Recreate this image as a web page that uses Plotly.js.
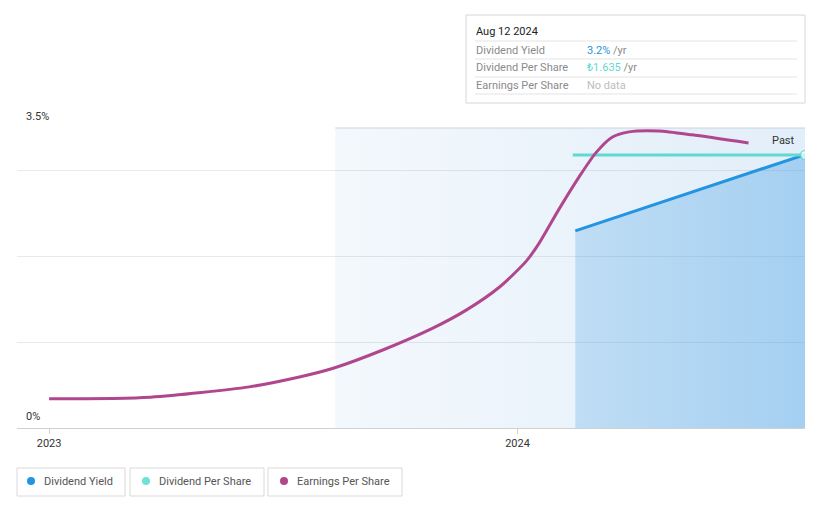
<!DOCTYPE html>
<html>
<head>
<meta charset="utf-8">
<script src="https://cdn.plot.ly/plotly-3.0.1.min.js"></script>
<style>html,body{margin:0;padding:0;background:#fff;}#chart{width:821px;height:508px;}</style>
</head>
<body>
<div id="chart"></div>
<script>
// Dividend Yield (%)
const yieldDates = ['2024-02-15', '2024-08-12'];
const yieldValues = [2.30, 3.19];
// Dividend Per Share (TRY)
const dpsDates = ['2024-02-13', '2024-08-12'];
const dpsValues = [1.635, 1.635];
// Earnings Per Share (TRY, estimated)
const epsDates = ['2023-01-01','2023-03-21','2023-06-06','2023-07-15','2023-08-11','2023-09-18','2023-10-27','2023-11-22','2023-12-18','2024-01-08','2024-01-18','2024-02-02','2024-02-18','2024-03-02','2024-03-15','2024-03-28','2024-04-20','2024-05-16','2024-06-29'];
const epsValues = [0.68,0.72,0.96,1.19,1.40,1.82,2.33,2.75,3.29,3.90,4.32,5.09,5.86,6.42,6.79,6.91,6.93,6.84,6.65];
// Past region
const pastDates = ['2023-08-12', '2024-08-12'];
const pastTop = [3.5, 3.5];
// Axis ticks
const yTickVals = [0, 1, 2, 3, 3.5];
const yTickText = ['0%', '', '', '', '3.5%'];
const xTickVals = ['2023-01-01', '2024-01-01'];
const xTickText = ['2023', '2024'];
// Legend
const legendNames = ['Dividend Yield', 'Dividend Per Share', 'Earnings Per Share'];

const FONT = 'Roboto, "Open Sans", sans-serif';
const BLUE = '#2394df', TEAL = '#5fd9d1', MAG = '#b0478e';
const legendColors = [BLUE, '#6ee2d6', MAG];

const traces = [
  {x: pastDates, y: pastTop, type: 'scatter', mode: 'lines', line: {width: 0}, fill: 'tozeroy',
   fillgradient: {type: 'horizontal', colorscale: [[0, 'rgba(60,140,215,0.06)'], [1, 'rgba(60,140,215,0.15)']]},
   hoverinfo: 'skip', showlegend: false},
  {x: yieldDates, y: yieldValues, type: 'scatter', mode: 'lines', line: {color: BLUE, width: 3}, fill: 'tozeroy',
   fillgradient: {type: 'horizontal', colorscale: [[0, 'rgba(90,170,230,0.30)'], [1, 'rgba(80,165,230,0.42)']]},
   name: legendNames[0], showlegend: false},
  {x: dpsDates, y: dpsValues, yaxis: 'y2', type: 'scatter', mode: 'lines+markers', line: {color: TEAL, width: 3},
   marker: {size: [0, 9], color: '#ffffff', line: {color: TEAL, width: 1.5}}, name: legendNames[1], showlegend: false},
  {x: epsDates, y: epsValues, yaxis: 'y3', type: 'scatter', mode: 'lines', line: {color: MAG, width: 3, shape: 'spline', smoothing: 0.7},
   name: legendNames[2], showlegend: false}
];

function px(x){return (x-17)/788;}
function py(y){return (428-y)/300;}

const shapes = [
  {type: 'line', xref: 'x', yref: 'paper', x0: '2023-08-12', x1: '2024-08-12', y0: 1, y1: 1, line: {color: '#c9d4de', width: 1}},
  // tooltip box
  {type: 'rect', xref: 'paper', yref: 'paper', x0: px(466), x1: px(805), y0: py(103), y1: py(15), line: {color: '#d6d6d6', width: 1}, fillcolor: '#ffffff'},
  {type: 'line', xref: 'paper', yref: 'paper', x0: px(475), x1: px(797), y0: py(41), y1: py(41), line: {color: '#e3e3e3', width: 1}},
  {type: 'line', xref: 'paper', yref: 'paper', x0: px(475), x1: px(797), y0: py(59), y1: py(59), line: {color: '#e3e3e3', width: 1}},
  {type: 'line', xref: 'paper', yref: 'paper', x0: px(475), x1: px(797), y0: py(77), y1: py(77), line: {color: '#e3e3e3', width: 1}},
  {type: 'line', xref: 'paper', yref: 'paper', x0: px(475), x1: px(797), y0: py(94), y1: py(94), line: {color: '#e3e3e3', width: 1}}
];
const boxes = [[17, 125], [130, 264], [268, 402]];
const dotX = [31, 146, 284];
const annotations = [];

function ann(x, y, text, color, size, anchor){
  return {xref: 'paper', yref: 'paper', x: px(x), y: py(y), text: text, showarrow: false,
          xanchor: anchor || 'left', yanchor: 'middle', font: {family: FONT, size: size || 11, color: color || '#333'}};
}

for (let i = 0; i < 3; i++) {
  shapes.push({type: 'rect', xref: 'paper', yref: 'paper', x0: px(boxes[i][0]), x1: px(boxes[i][1]), y0: py(496), y1: py(468), line: {color: '#d9d9d9', width: 1}});
  shapes.push({type: 'circle', xref: 'paper', yref: 'paper', xsizemode: 'pixel', ysizemode: 'pixel', xanchor: px(dotX[i]), yanchor: py(481),
               x0: -4, x1: 4, y0: -4, y1: 4, fillcolor: legendColors[i], line: {width: 0}});
  annotations.push(ann(dotX[i] + 11, 481, legendNames[i], '#555', 11));
}

annotations.push(
  ann(474, 32, 'Aug 12 2024', '#222', 11),
  ann(474, 50, 'Dividend Yield', '#8a8a8a', 11),
  ann(474, 67, 'Dividend Per Share', '#8a8a8a', 11),
  ann(474, 85, 'Earnings Per Share', '#8a8a8a', 11),
  ann(585, 50, '<span style="color:' + BLUE + '">3.2%</span> /yr', '#8a8a8a', 11),
  ann(585, 67, '<span style="color:' + TEAL + '">₺1.635</span> /yr', '#8a8a8a', 11),
  ann(585, 85, 'No data', '#bdbdbd', 11),
  ann(797, 140, 'Past', '#333', 11, 'right')
);

const layout = {
  width: 821, height: 508,
  margin: {l: 17, r: 16, t: 128, b: 80},
  paper_bgcolor: '#ffffff', plot_bgcolor: '#ffffff',
  font: {family: FONT, size: 11, color: '#333'},
  showlegend: false,
  hovermode: false,
  xaxis: {type: 'date', range: ['2022-12-07', '2024-08-12'], tickvals: xTickVals, ticktext: xTickText,
          showgrid: false, zeroline: false, showline: true, linecolor: '#d0d0d0', linewidth: 1,
          ticks: 'outside', ticklen: 5, tickcolor: '#d0d0d0', tickfont: {family: FONT, size: 11, color: '#333'}},
  yaxis: {range: [0, 3.5], tickvals: yTickVals, ticktext: yTickText, showgrid: true, gridcolor: '#e9e9e9',
          zeroline: false, showline: false, ticks: '', ticklabelposition: 'inside', ticklabeloverflow: 'allow',
          ticklabelshift: -12, ticklabelstandoff: 6,
          tickfont: {family: FONT, size: 11, color: '#333'}},
  yaxis2: {range: [0, 1.7967], overlaying: 'y', visible: false},
  yaxis3: {range: [0, 7], overlaying: 'y', visible: false},
  shapes: shapes,
  annotations: annotations
};

Plotly.newPlot('chart', traces, layout, {displayModeBar: false, staticPlot: true});
</script>
</body>
</html>
